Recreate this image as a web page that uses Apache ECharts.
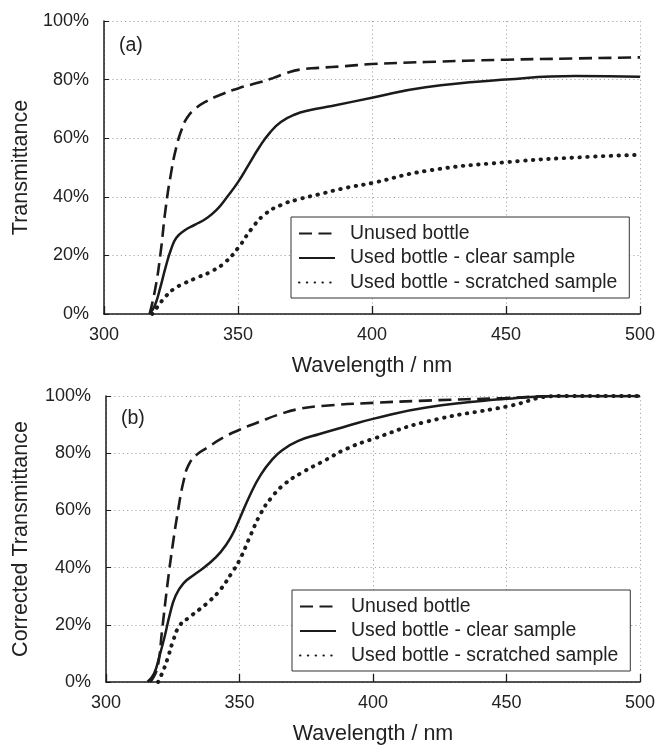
<!DOCTYPE html>
<html>
<head>
<meta charset="utf-8">
<script src="https://cdn.jsdelivr.net/npm/echarts@6/dist/echarts.min.js"></script>
<style>html,body{margin:0;padding:0;background:#fff}#c{width:658px;height:746px}</style>
</head>
<body>
<div id="c"></div>
<script>
// ---- Data ----
const seriesNames = ['Unused bottle', 'Used bottle - clear sample', 'Used bottle - scratched sample'];
const xTicks = [300, 350, 400, 450, 500];
const yTicks = [0, 20, 40, 60, 80, 100];

// Panel (a): Transmittance
const aUnusedWl = [317, 319, 321, 323, 325, 327, 329, 331, 334, 338, 344, 350, 357, 363, 368, 373, 380, 390, 400, 420, 450, 475, 500];
const aUnusedT  = [0, 8, 20, 36, 48, 57, 63, 67, 70, 72.5, 75, 77, 78.8, 80.5, 82.2, 83.4, 84, 84.6, 85.3, 86, 86.8, 87.2, 87.6];
const aClearWl = [317, 319, 321, 323, 325, 327, 330, 334, 338, 342, 346, 350, 354, 358, 362, 366, 371, 377, 385, 400, 420, 450, 476, 500];
const aClearT  = [0, 3, 9, 16, 22, 26, 28.5, 30.5, 32.5, 35.5, 40, 45, 51, 57, 62, 65.5, 68, 69.6, 71, 73.8, 77.4, 80, 81.2, 81];
const aScratchWl = [318, 320, 323, 326, 330, 335, 340, 345, 350, 355, 360, 366, 372, 380, 390, 400, 420, 450, 480, 500];
const aScratchT  = [0, 2.5, 6, 8.5, 10.5, 12.5, 14.5, 17.5, 22.5, 29, 34, 37.2, 39, 40.8, 43, 44.7, 48.8, 51.8, 53.6, 54.3];

// Panel (b): Corrected Transmittance
const bUnusedWl = [316.5, 318, 319.5, 321, 323, 325, 327, 329, 331, 334, 338, 344, 350, 357, 365, 373, 382, 400, 420, 450, 470, 500];
const bUnusedT  = [0, 2, 6, 18, 34, 48, 60, 70, 76, 79.5, 82, 85.5, 88.2, 90.8, 93.6, 95.6, 96.6, 97.6, 98.4, 99.3, 100, 100];
const bClearWl = [315.5, 318, 320, 322, 324, 326, 329, 333, 338, 343, 347, 350, 354, 358, 362, 366, 372, 380, 390, 400, 420, 450, 470, 500];
const bClearT  = [0, 3, 9, 16, 24, 30, 34.5, 37.5, 41, 45.5, 51, 57, 65.5, 72.5, 77.5, 81, 84.3, 86.7, 89.4, 92, 96, 99, 100, 100];
const bScratchWl = [319.5, 321, 323, 325, 327.5, 331, 335, 339, 343, 347, 350, 354, 358, 362, 367, 373, 382, 390, 400, 420, 450, 470, 500];
const bScratchT  = [0, 3, 8, 14, 19.6, 22.5, 25.4, 28.5, 32.5, 38, 42.6, 51, 59, 64.5, 69.3, 73, 77.5, 81.5, 85, 91, 96.3, 100, 100];

const zip = (xs, ys) => xs.map((x, i) => [x, ys[i]]);

const INK = '#1b1b1b';
const TXT = '#222';
const FONT = '"Liberation Sans", Arial, Helvetica, sans-serif';
const GRIDC = '#a8a8a8';

const styles = [
  { type: [13, 6.5], width: 2.6, cap: 'butt' },
  { type: 'solid', width: 2.5, cap: 'butt' },
  { type: [0.5, 7.3], width: 3.9, cap: 'round' }
];

function xAxis(gridIndex) {
  return {
    gridIndex, type: 'value', min: xTicks[0], max: xTicks[xTicks.length - 1], interval: 50,
    name: 'Wavelength / nm', nameLocation: 'middle', nameGap: 41,
    nameTextStyle: { fontSize: 21.5, color: TXT, fontFamily: FONT },
    axisLine: { show: true, lineStyle: { color: INK, width: 1.5 } },
    axisTick: { show: true, inside: true, length: 8, lineStyle: { color: INK, width: 1.3 } },
    axisLabel: { fontSize: 18, color: TXT, fontFamily: FONT, margin: 12 },
    splitLine: { show: true, lineStyle: { type: [1.2, 3], color: GRIDC, width: 1 } }
  };
}
function yAxis(gridIndex, name, gap) {
  return {
    gridIndex, type: 'value', min: yTicks[0], max: yTicks[yTicks.length - 1], interval: 20,
    name, nameLocation: 'middle', nameGap: gap,
    nameTextStyle: { fontSize: 21.5, color: TXT, fontFamily: FONT },
    axisLine: { show: true, lineStyle: { color: INK, width: 1.5 } },
    axisTick: { show: true, inside: true, length: 5, lineStyle: { color: INK, width: 1 } },
    axisLabel: { fontSize: 18, color: TXT, fontFamily: FONT, margin: 15, formatter: '{value}%' },
    splitLine: { show: true, lineStyle: { type: [1.2, 3], color: GRIDC, width: 1 } }
  };
}
function line(name, data, idx, styleIdx) {
  return {
    name, type: 'line', xAxisIndex: idx, yAxisIndex: idx, data,
    symbol: 'none', smooth: 0.5,
    lineStyle: Object.assign({ color: INK }, styles[styleIdx]),
    itemStyle: { color: INK },
    z: 5 - styleIdx
  };
}
function legend(left, top) {
  return {
    data: seriesNames, orient: 'vertical', left, top,
    itemWidth: 36, itemHeight: 14, itemGap: 5.5,
    padding: [7, 12, 6, 7],
    backgroundColor: '#fff', borderColor: '#333', borderWidth: 1,
    selectedMode: false,
    itemStyle: { color: 'rgba(0,0,0,0)', borderColor: 'rgba(0,0,0,0)', borderWidth: 0, opacity: 0 },
    textStyle: { fontSize: 19.4, color: TXT, fontFamily: FONT, lineHeight: 19, padding: [0, 0, 0, 10] }
  };
}

const chart = echarts.init(document.getElementById('c'), null, { renderer: 'canvas' });
chart.setOption({
  animation: false,
  backgroundColor: '#fff',
  title: [
    { text: '(a)', left: 114, top: 31, textStyle: { fontSize: 19.5, fontWeight: 'normal', color: TXT, fontFamily: FONT } },
    { text: '(b)', left: 116, top: 404, textStyle: { fontSize: 19.5, fontWeight: 'normal', color: TXT, fontFamily: FONT } }
  ],
  grid: [
    { left: 104, top: 21, width: 540, height: 293 },
    { left: 106, top: 396, width: 536, height: 291 }
  ],
  xAxis: [xAxis(0), xAxis(1)],
  yAxis: [yAxis(0, 'Transmittance', 71), yAxis(1, 'Corrected Transmittance', 74)],
  legend: [legend(291, 217), legend(292, 590)],
  series: [
    line(seriesNames[0], zip(aUnusedWl, aUnusedT), 0, 0),
    line(seriesNames[1], zip(aClearWl, aClearT), 0, 1),
    line(seriesNames[2], zip(aScratchWl, aScratchT), 0, 2),
    line(seriesNames[0], zip(bUnusedWl, bUnusedT), 1, 0),
    line(seriesNames[1], zip(bClearWl, bClearT), 1, 1),
    line(seriesNames[2], zip(bScratchWl, bScratchT), 1, 2)
  ]
});
</script>
</body>
</html>
